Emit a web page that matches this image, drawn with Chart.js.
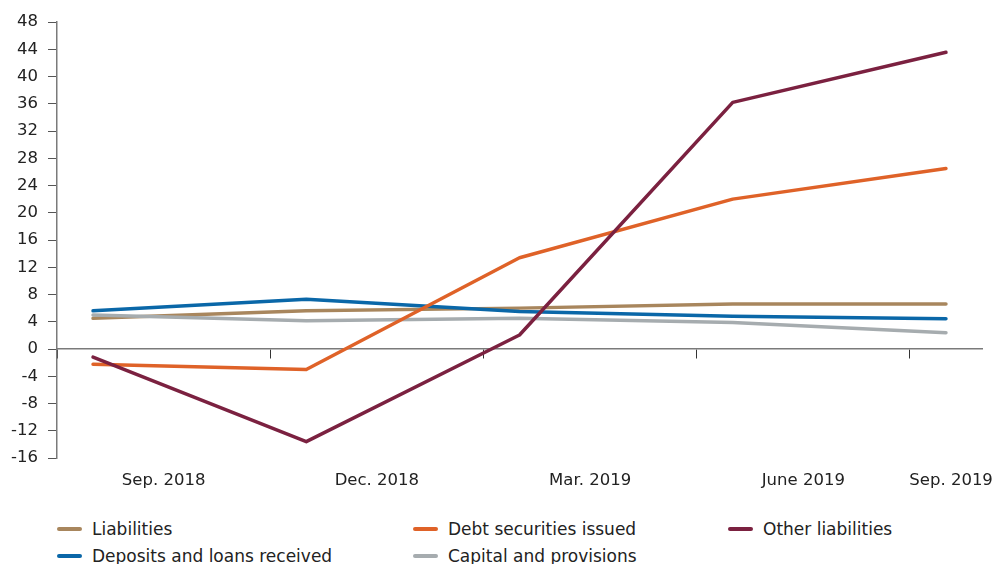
<!DOCTYPE html>
<html>
<head>
<meta charset="utf-8">
<script src="https://cdn.jsdelivr.net/npm/chart.js@4/dist/chart.umd.min.js"></script>
<style>
  body { margin: 0; background: #fff; }
  #wrap { position: relative; width: 996px; height: 564px; overflow: hidden; }
  #chart { position: absolute; left: 0; top: 0; }
  #legend {
    position: absolute; left: 57px; top: 515px;
    display: grid; grid-template-columns: 356px 315px 220px;
    grid-template-rows: 27px 27px; grid-auto-flow: column;
    font-family: "DejaVu Sans", sans-serif; font-size: 17px; color: #222;
  }
  .item { display: flex; align-items: center; white-space: nowrap; }
  .swatch { width: 25px; height: 4px; border-radius: 2px; margin-right: 10px; }
</style>
</head>
<body>
<div id="wrap">
  <canvas id="chart" width="996" height="500"></canvas>
  <div id="legend"></div>
</div>
<script>
const periods = ["Sep. 2018", "Dec. 2018", "Mar. 2019", "June 2019", "Sep. 2019"];
const yTicks = [-16, 48, 4]; // min, max, step

const liabilities = [4.5, 5.6, 6.0, 6.6, 6.6];
const deposits = [5.6, 7.3, 5.5, 4.8, 4.45];
const debtSecurities = [-2.25, -3.0, 13.4, 22.0, 26.5];
const capital = [5.0, 4.15, 4.5, 3.9, 2.4];
const otherLiabilities = [-1.2, -13.6, 2.05, 36.2, 43.55];

// x runs 0..4 over the quarters; quarter boundaries sit a bit left of each point
const boundary = -0.169;
const xMax = 4.169;

function pts(vals) {
  return vals.map(function(v, i) { return { x: i, y: v }; });
}

function line(label, vals, color, order) {
  return {
    label: label,
    data: pts(vals),
    borderColor: color,
    backgroundColor: color,
    borderWidth: 3.5,
    borderCapStyle: "round",
    borderJoinStyle: "round",
    pointRadius: 0,
    tension: 0,
    order: order
  };
}

const datasets = [
  line("Liabilities", liabilities, "#a8865d", 4),
  line("Deposits and loans received", deposits, "#0a67a8", 3),
  line("Debt securities issued", debtSecurities, "#df6228", 1),
  line("Capital and provisions", capital, "#a6acaf", 2),
  line("Other liabilities", otherLiabilities, "#7b2140", 0)
];

const font = { family: "'DejaVu Sans', sans-serif", size: 16.5 };

const ctx = document.getElementById("chart").getContext("2d");
const myChart = new Chart(ctx, {
  type: "line",
  data: { datasets: datasets },
  options: {
    responsive: false,
    animation: false,
    layout: { padding: { top: 22, right: 14, left: 0, bottom: 0 } },
    plugins: { legend: { display: false }, tooltip: { enabled: false } },
    scales: {
      x: {
        type: "linear",
        min: boundary,
        max: xMax,
        position: { y: 0 },
        afterBuildTicks: function(scale) {
          scale.ticks = periods.map(function(p, i) { return { value: boundary + i }; });
        },
        ticks: { display: false },
        grid: { drawOnChartArea: false, drawTicks: true, tickLength: 9, color: "#333", lineWidth: 1 },
        border: { display: true, color: "#7a7a7a", width: 1.5 }
      },
      xLabels: {
        type: "linear",
        axis: "x",
        min: boundary,
        max: xMax,
        position: "bottom",
        afterBuildTicks: function(scale) {
          scale.ticks = periods.map(function(p, i) {
            return { value: Math.min(boundary + i + 0.5, xMax - 0.145) };
          });
        },
        afterFit: function(scale) {
          scale.height = 42;
          // last label is allowed to run into the right margin
          scale.paddingLeft = 0;
          scale.paddingRight = 0;
        },
        ticks: {
          font: font, color: "#222", padding: 13, maxRotation: 0, autoSkip: false,
          callback: function(v, i) { return periods[i]; }
        },
        grid: { display: false, drawTicks: false },
        border: { display: false }
      },
      y: {
        min: yTicks[0],
        max: yTicks[1],
        afterFit: function(scale) { scale.width = 57; },
        ticks: { stepSize: yTicks[2], font: font, color: "#222", padding: 10 },
        grid: { drawOnChartArea: false, drawTicks: true, tickLength: 9, color: "#555" },
        border: { display: true, color: "#7a7a7a", width: 1.5 }
      }
    }
  }
});

// legend built from the datasets, three columns of two rows
const legend = document.getElementById("legend");
datasets.forEach(function(d) {
  const item = document.createElement("div");
  item.className = "item";
  item.innerHTML = "<span class='swatch' style='background:" + d.borderColor + "'></span>" + d.label;
  legend.appendChild(item);
});
</script>
</body>
</html>
